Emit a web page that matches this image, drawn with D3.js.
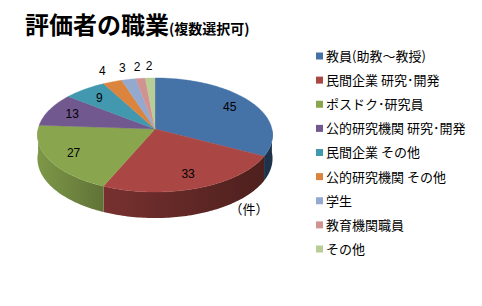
<!DOCTYPE html>
<html>
<head>
<meta charset="utf-8">
<script src="https://cdn.jsdelivr.net/npm/d3@7"></script>
<style>
  body { margin: 0; background: #fff; }
  svg { display: block; }
</style>
</head>
<body>
<svg id="chart" width="482" height="306"></svg>
<script>
// chart data
var categories = ['教員(助教～教授)', '民間企業 研究･開発', 'ポスドク･研究員', '公的研究機関 研究･開発',
  '民間企業 その他', '公的研究機関 その他', '学生', '教育機関職員', 'その他'];
var values = [45, 33, 27, 13, 9, 4, 3, 2, 2];
var colors = ['#4572A7', '#AA4643', '#89A54E', '#71588F', '#4198AF', '#DB843D', '#93A9CF', '#D19392', '#B9CD96'];
var title = '評価者の職業';
var subtitle = '(複数選択可)';
var unit = '（件）';

var svg = d3.select('#chart');
var jp = '"Noto Sans CJK JP", "Noto Sans", sans-serif';

// 3d pie geometry (simple perspective)
var cx = 155, cy = 129;
var A = 116.9, B = 56.4, p = 0.105, H = 23.3;

function proj(t, k, h){
  var d = 1 + p * k * Math.cos(t);
  return [cx + A * k * Math.sin(t) / d, cy - B * k * Math.cos(t) / d + H * h / d];
}

function arcPts(a, b, h){
  var n = Math.max(2, Math.ceil((b - a) / 0.02));
  return d3.range(n + 1).map(function(i){ return proj(a + (b - a) * i / n, 1, h); });
}

var pie = d3.pie().sort(null).value(function(d){ return d; });
var arcs = pie(values);
var total = d3.sum(values);

// side gradients, darker to the right
var defs = svg.append('defs');
arcs.forEach(function(d, i){
  var c = colors[i];
  var g = defs.append('linearGradient')
    .attr('id', 'side' + i)
    .attr('gradientUnits', 'userSpaceOnUse')
    .attr('x1', cx - A).attr('x2', cx + A)
    .attr('y1', 0).attr('y2', 0);
  g.append('stop').attr('offset', 0).attr('stop-color', d3.color(c).darker(0.25));
  g.append('stop').attr('offset', 0.28).attr('stop-color', d3.color(c).darker(1.0));
  g.append('stop').attr('offset', 1).attr('stop-color', d3.color(c).darker(2.3));
});

var line = d3.line();

// visible walls (front half)
var lo = Math.PI / 2, hi = Math.PI * 1.5;
arcs.forEach(function(d, i){
  var a = Math.max(d.startAngle, lo), b = Math.min(d.endAngle, hi);
  if(b <= a) return;
  var top = arcPts(a, b, 0);
  var bot = arcPts(a, b, 1).reverse();
  svg.append('path')
    .attr('d', line(top.concat(bot)) + 'Z')
    .attr('fill', 'url(#side' + i + ')');
});

// top faces
arcs.forEach(function(d, i){
  var pts = [[cx, cy]].concat(arcPts(d.startAngle, d.endAngle, 0));
  svg.append('path')
    .attr('d', line(pts) + 'Z')
    .attr('fill', colors[i])
    .attr('stroke', colors[i])
    .attr('stroke-width', 0.4);
});

// data labels
arcs.forEach(function(d, i){
  var m = (d.startAngle + d.endAngle) / 2;
  var k = d.value / total < 0.05 ? 1.27 : 0.78;
  var pt = proj(m, k, 0);
  svg.append('text')
    .attr('x', pt[0]).attr('y', pt[1])
    .attr('dy', '0.35em')
    .attr('text-anchor', 'middle')
    .style('font-family', '"Liberation Sans", Arial, sans-serif')
    .style('font-size', '12px')
    .attr('fill', '#000')
    .text(d.value);
});

// unit
svg.append('text')
  .attr('x', 249).attr('y', 214)
  .attr('text-anchor', 'middle')
  .style('font-family', jp)
  .style('font-size', '13px')
  .text(unit);

// title
var t = svg.append('text')
  .attr('x', 25).attr('y', 34)
  .style('font-family', jp)
  .style('font-weight', 'bold');
t.append('tspan').style('font-size', '24px').text(title);
t.append('tspan').style('font-size', '14px').text(subtitle);

// legend
var ly = d3.scalePoint().domain(categories).range([56, 249]);
var lg = svg.append('g').selectAll('g')
  .data(categories)
  .join('g')
  .attr('transform', function(d){ return 'translate(316,' + ly(d) + ')'; });
lg.append('rect')
  .attr('x', 0).attr('y', -3.5)
  .attr('width', 7).attr('height', 7)
  .attr('fill', function(d, i){ return colors[i]; });
lg.append('text')
  .attr('x', 10).attr('y', 0)
  .attr('dy', '0.38em')
  .style('font-family', jp)
  .style('font-size', '13px')
  .attr('fill', '#000')
  .text(function(d){ return d; });
</script>
</body>
</html>
